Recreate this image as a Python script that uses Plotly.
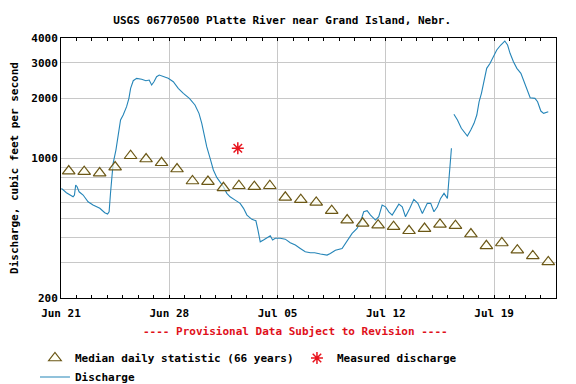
import pandas as pd
import plotly.graph_objects as go

START = pd.Timestamp("2010-06-21")

# Discharge (cfs): time in days after Jun 21 00:00, value
q_days = [0.03, 0.35, 0.78, 0.87, 0.95, 1.04, 1.17, 1.43, 1.75, 2.07, 2.51, 2.83, 3.01, 3.11,
          3.20, 3.27, 3.37, 3.55, 3.69, 3.85, 4.02, 4.24, 4.39, 4.50, 4.67, 4.89, 5.21, 5.49,
          5.70, 5.86, 6.01, 6.18, 6.35, 6.61, 6.93, 7.26, 7.58, 7.91, 8.30, 8.66, 8.92, 9.10,
          9.27, 9.42, 9.64, 9.85, 10.07, 10.29, 10.50, 10.72, 10.93, 11.26, 11.58, 11.80, 12.02,
          12.34, 12.60, 12.73, 12.88, 13.09, 13.31, 13.53, 13.68, 13.85, 14.17, 14.50, 14.82,
          15.15, 15.47, 15.79, 16.12, 16.40, 16.77, 17.20, 17.41, 17.74, 18.17, 18.39, 18.60,
          18.82, 19.14, 19.36, 19.57, 19.79, 20.01, 20.33, 20.54, 20.76, 20.98, 21.19, 21.41,
          21.63, 21.84, 22.06, 22.27, 22.55, 22.81, 23.07, 23.36, 23.68, 23.90, 24.11, 24.33,
          24.54, 24.76, 24.98, 25.08, 25.24, 25.32,
          25.40, 25.63, 25.88, 26.10, 26.27, 26.49, 26.70, 26.88, 27.03, 27.18, 27.35, 27.52,
          27.74, 27.96, 28.17, 28.43, 28.69, 28.87, 29.03, 29.25, 29.47, 29.73, 29.94, 30.16,
          30.33, 30.64, 30.81, 31.02, 31.20, 31.50]
q_vals = [707, 673, 642, 655, 735, 721, 680, 655, 606, 584, 562, 534, 526, 540,
          668, 779, 944, 1100, 1308, 1555, 1647, 1813, 1996, 2240, 2445, 2513, 2485, 2445,
          2465, 2327, 2417, 2561, 2611, 2561, 2513, 2417, 2240, 2114, 1996, 1848, 1679, 1497,
          1308, 1143, 1000, 874, 803, 764, 721, 668, 642, 618, 595, 562, 520,
          495, 487, 438, 382, 390, 398, 410, 390, 398, 398, 394, 378,
          368, 354, 341, 337, 337, 332, 328, 334, 347, 354, 375, 393,
          421, 446, 481, 540, 547, 520, 491, 510, 584, 572, 540, 520,
          551, 590, 572, 510, 562, 623, 595, 530, 595, 595, 540, 572,
          630, 668, 630, 779, 1122, None,
          1660, 1555, 1413, 1343, 1293, 1385, 1497, 1647, 1920, 2114, 2417, 2820,
          2988, 3224, 3483, 3690, 3864, 3690, 3353, 3044, 2820, 2663, 2417, 2154,
          2010, 1996, 1920, 1724, 1679, 1711]

# Median daily statistic (66 years), Jun 21 .. Jul 22
median_vals = [863, 857, 844, 904, 1030, 992, 950, 884, 770, 765, 712, 729, 721, 729,
               638, 621, 602, 547, 491, 473, 463, 455, 434, 445, 467, 460, 418, 365,
               377, 347, 325, 303]

# Measured discharge
meas_day = [11.43]
meas_val = [1122]

y_tickvals = [200, 300, 400, 500, 600, 700, 800, 900, 1000, 2000, 3000, 4000]
y_ticktext = ["200", "", "", "", "", "", "", "", "1000", "2000", "3000", "4000"]

x_tickdates = ["2010-06-21", "2010-06-28", "2010-07-05", "2010-07-12", "2010-07-19"]
x_ticktext = ["Jun 21", "Jun 28", "Jul 05", "Jul 12", "Jul 19"]

q_x = [START + pd.Timedelta(days=d) for d in q_days]
med_x = [START + pd.Timedelta(days=i + 0.5) for i in range(len(median_vals))]
meas_x = [START + pd.Timedelta(days=d) for d in meas_day]

FONT = "DejaVu Sans Mono"

fig = go.Figure()
fig.add_trace(go.Scatter(
    x=q_x, y=q_vals, mode="lines", name="Discharge",
    line=dict(color="#2585b8", width=1.1), connectgaps=False, legendrank=3))
fig.add_trace(go.Scatter(
    x=med_x, y=median_vals, mode="markers", name="Median daily statistic (66 years)",
    marker=dict(symbol="triangle-up", size=11, color="rgba(255,255,240,0.6)",
                line=dict(color="#6b5716", width=1.2)), legendrank=1))
fig.add_trace(go.Scatter(
    x=meas_x, y=meas_val, mode="markers", name="Measured discharge",
    marker=dict(symbol="asterisk-open", size=10, color="#e8141e",
                line=dict(color="#e8141e", width=1.5)), legendrank=2))

fig.update_layout(
    width=576, height=384,
    margin=dict(l=61, r=20, t=38, b=86, autoexpand=False),
    paper_bgcolor="white", plot_bgcolor="white",
    font=dict(family=FONT, size=11, color="black", weight="bold"),
    title=dict(text="USGS 06770500 Platte River near Grand Island, Nebr.",
               x=0.49, xanchor="center", y=0.947, yanchor="middle",
               font=dict(family=FONT, size=11, color="black", weight="bold")),
    showlegend=True,
    legend=dict(orientation="h", xref="paper", yref="paper", x=-0.0526, xanchor="left",
                y=-0.175, yanchor="top", entrywidth=217, entrywidthmode="pixels",
                font=dict(family=FONT, size=11, weight="bold"), tracegroupgap=0,
                bgcolor="rgba(0,0,0,0)"),
    annotations=[dict(text="---- Provisional Data Subject to Revision ----",
                      xref="paper", yref="paper", x=0.474, y=-0.13,
                      xanchor="center", yanchor="middle", showarrow=False,
                      font=dict(family=FONT, size=11, color="#e0101a", weight="bold"))],
)

fig.update_xaxes(
    type="date",
    range=[START, START + pd.Timedelta(days=32)],
    tickvals=x_tickdates, ticktext=x_ticktext, tickangle=0,
    ticks="inside", ticklen=3, tickcolor="black", ticklabelstandoff=5,
    minor=dict(dtick=86400000, tick0="2010-06-21", ticks="inside", ticklen=3,
               tickcolor="black", showgrid=False),
    showgrid=True, gridcolor="#c8c8c8", gridwidth=1,
    showline=True, linecolor="black", linewidth=1, mirror="allticks",
    zeroline=False, tickfont=dict(family=FONT, size=11, weight="bold"),
)
fig.update_yaxes(
    type="log",
    range=[2.30103, 3.60206],
    tickvals=y_tickvals, ticktext=y_ticktext,
    ticks="", showgrid=True, gridcolor="#c8c8c8", gridwidth=1,
    showline=True, linecolor="black", linewidth=1, mirror=True,
    zeroline=False, tickfont=dict(family=FONT, size=11, weight="bold"),
    title=dict(text="Discharge, cubic feet per second", standoff=10,
               font=dict(family=FONT, size=11, weight="bold")),
)

fig.write_html("out.html", config={"displayModeBar": False},
               post_script="document.body.style.margin='0px';document.body.style.padding='0px';")
